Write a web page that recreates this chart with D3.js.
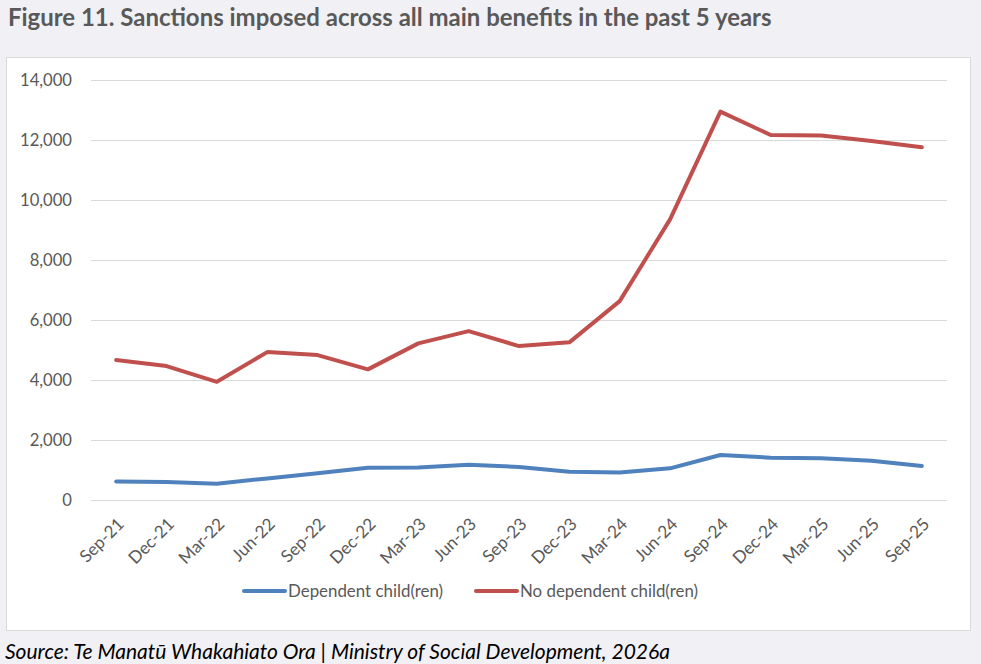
<!DOCTYPE html>
<html>
<head>
<meta charset="utf-8">
<script src="https://cdn.jsdelivr.net/npm/d3@7"></script>
<style>
  body { margin: 0; background: #f1f1f5; }
  svg { display: block; }
  text { font-family: Lato, "Open Sans", sans-serif; }
</style>
</head>
<body>
<div id="chart"></div>
<script>
// quarters on the x axis
var quarters = ["Sep-21", "Dec-21", "Mar-22", "Jun-22", "Sep-22", "Dec-22", "Mar-23", "Jun-23",
    "Sep-23", "Dec-23", "Mar-24", "Jun-24", "Sep-24", "Dec-24", "Mar-25", "Jun-25", "Sep-25"];

// sanctions per quarter
var dependent = [620, 600, 545, 720, 890, 1075, 1080, 1175, 1100, 945, 920, 1055, 1500, 1410, 1390, 1310, 1135];
var noDependent = [4665, 4465, 3940, 4930, 4830, 4355, 5220, 5630, 5130, 5255, 6630, 9355, 12945, 12165, 12150, 11965, 11755];

var seriesNames = ["Dependent child(ren)", "No dependent child(ren)"];
var seriesColors = ["#4f81bd", "#c0504d"];
var yTicks = [0, 2000, 4000, 6000, 8000, 10000, 12000, 14000];

var titleText = "Figure 11. Sanctions imposed across all main benefits in the past 5 years";
var sourceText = "Source: Te Manatū Whakahiato Ora | Ministry of Social Development, 2026a";

var W = 981, H = 664;
var plot = {left: 91, right: 947, top: 80, bottom: 500};
var labelColor = "#595959";

function fitText(sel, target) {
    var w = sel.node().getComputedTextLength();
    var fs = parseFloat(sel.attr("font-size"));
    sel.attr("font-size", fs * target / w);
    return fs * target / w;
}

var svg = d3.select("#chart").append("svg")
    .attr("width", W)
    .attr("height", H);

svg.append("rect")
    .attr("width", W).attr("height", H)
    .attr("fill", "#f1f1f5");

// title
var title = svg.append("text")
    .attr("x", 8)
    .attr("y", 26)
    .attr("font-size", 22)
    .attr("font-weight", "bold")
    .attr("fill", labelColor)
    .text(titleText);
fitText(title, 764);

// chart box
svg.append("rect")
    .attr("x", 6.5).attr("y", 57.5)
    .attr("width", 964).attr("height", 573)
    .attr("fill", "#ffffff")
    .attr("stroke", "#d9d9d9");

var x = d3.scalePoint()
    .domain(quarters)
    .range([plot.left, plot.right])
    .padding(0.5);

var y = d3.scaleLinear()
    .domain([0, 14000])
    .range([plot.bottom, plot.top]);

// y axis + gridlines
var yAxis = svg.append("g")
    .attr("transform", "translate(" + plot.left + ",0)")
    .call(d3.axisLeft(y)
        .tickValues(yTicks)
        .tickSize(-(plot.right - plot.left))
        .tickPadding(19)
        .tickFormat(d3.format(",")));
yAxis.select(".domain").remove();
yAxis.selectAll(".tick line").attr("stroke", "#d9d9d9").attr("stroke-width", 1.2);
yAxis.selectAll(".tick text")
    .attr("fill", labelColor)
    .attr("font-family", "Lato, 'Open Sans', sans-serif");

var probe = yAxis.selectAll(".tick text").filter(function (d) { return d === 14000; });
probe.attr("font-size", 17);
var axisFont = fitText(probe, 52);
yAxis.selectAll(".tick text").attr("font-size", axisFont);

// x axis labels, rotated
var xAxis = svg.append("g")
    .attr("transform", "translate(0," + plot.bottom + ")")
    .call(d3.axisBottom(x).tickSize(0));
xAxis.select(".domain").remove();
xAxis.selectAll(".tick text")
    .attr("fill", labelColor)
    .attr("font-size", axisFont * 1.03)
    .attr("font-family", "Lato, 'Open Sans', sans-serif")
    .attr("text-anchor", "end")
    .attr("x", 0).attr("y", 0).attr("dy", "0.35em")
    .attr("transform", "translate(4,21) rotate(-45)");

// lines
var line = d3.line()
    .x(function (d, i) { return x(quarters[i]); })
    .y(function (d) { return y(d); });

[dependent, noDependent].forEach(function (vals, i) {
    svg.append("path")
        .attr("d", line(vals))
        .attr("fill", "none")
        .attr("stroke", seriesColors[i])
        .attr("stroke-width", 4)
        .attr("stroke-linejoin", "round")
        .attr("stroke-linecap", "round");
});

// legend
var legendX = [244, 476];
var legendTextW = [155, 178];
seriesNames.forEach(function (name, i) {
    svg.append("line")
        .attr("x1", legendX[i]).attr("x2", legendX[i] + 41)
        .attr("y1", 591).attr("y2", 591)
        .attr("stroke", seriesColors[i])
        .attr("stroke-width", 4)
        .attr("stroke-linecap", "round");
    var t = svg.append("text")
        .attr("x", legendX[i] + 44)
        .attr("y", 591)
        .attr("dy", "0.35em")
        .attr("font-size", axisFont)
        .attr("fill", labelColor)
        .text(name);
    fitText(t, legendTextW[i]);
});

// source
var source = svg.append("text")
    .attr("x", 5)
    .attr("y", 659)
    .attr("font-size", 20)
    .attr("font-style", "italic")
    .attr("fill", "#000000")
    .text(sourceText);
fitText(source, 665);
</script>
</body>
</html>
